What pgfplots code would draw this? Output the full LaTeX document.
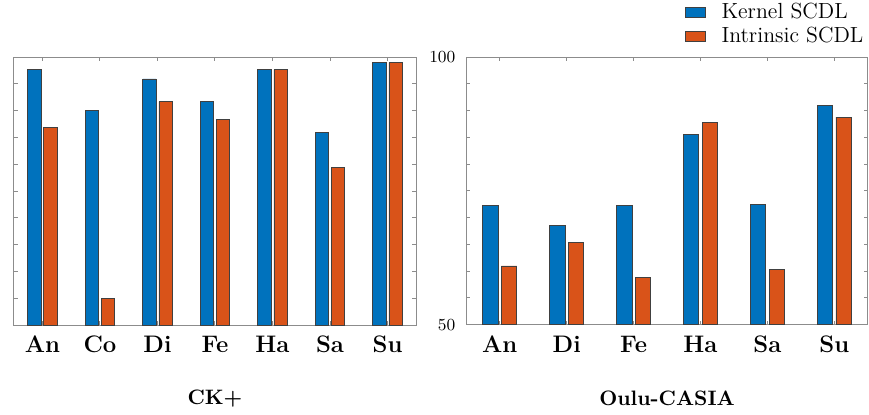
\documentclass[border=0pt]{standalone}
\usepackage{pgfplots}
\pgfplotsset{compat=1.18}

\definecolor{kblue}{RGB}{0,114,189}
\definecolor{iorange}{RGB}{217,83,25}
\definecolor{boxgray}{RGB}{140,140,140}

\pgfplotsset{
  bars/.style={
    scale only axis,
    anchor=north west,
    ybar,
    bar width=0.23,
    axis line style={boxgray, line width=0.5pt},
    major tick style={boxgray, line width=0.5pt},
    tick align=inside,
    major tick length=2pt,
    xtick=data,
    xticklabel style={font=\bfseries\fontsize{12}{14}\selectfont, anchor=center, yshift=-9.8pt},
    xlabel style={font=\bfseries\fontsize{10.5}{12}\selectfont, at={(axis description cs:0.5,0)}, anchor=center, yshift=-37pt},
    every axis plot/.append style={draw=black!75, line width=0.4pt},
  },
}

\begin{document}
\begin{tikzpicture}
\path (0,0) rectangle (434.5pt,206pt);

% CK+
\begin{axis}[
  bars,
  at={(4.65pt,179.35pt)},
  width=202.35pt, height=134.7pt,
  xmin=0.5, xmax=7.5,
  ymin=80, ymax=100,
  ytick={80,82,...,100},
  yticklabels={},
  xticklabels={An,Co,Di,Fe,Ha,Sa,Su},
  xlabel={CK+},
]
\addplot[fill=kblue, bar shift=-0.14] coordinates {
  (1,99.06) (2,96.0) (3,98.37) (4,96.68) (5,99.06) (6,94.36) (7,99.58)};
\addplot[fill=iorange, bar shift=0.14] coordinates {
  (1,94.73) (2,81.98) (3,96.68) (4,95.32) (5,99.06) (6,91.76) (7,99.58)};
\end{axis}

% Oulu-CASIA
\begin{axis}[
  bars,
  at={(232.15pt,179.35pt)},
  width=201.7pt, height=134.5pt,
  xmin=0.5, xmax=6.5,
  ymin=50, ymax=100,
  ytick={50,55,...,100},
  yticklabels={50,,,,,,,,,,100},
  yticklabel style={font=\fontsize{8.5}{10}\selectfont, xshift=-2pt},
  xticklabels={An,Di,Fe,Ha,Sa,Su},
  xlabel={Oulu-CASIA},
  legend style={at={(axis description cs:1,1)}, anchor=south east,
    draw=none, fill=none, inner sep=0pt, yshift=4pt, xshift=-0.5pt,
    font=\fontsize{11}{13}\selectfont,
    nodes={inner sep=1.5pt}, row sep=0pt},
  legend cell align=left,
  legend image code/.code={\fill[#1] (0pt,-2.5pt) rectangle (10pt,2.5pt);},
  /tikz/every odd column/.append style={column sep=6.5pt},
]
\addplot[fill=kblue, bar shift=-0.14] coordinates {
  (1,72.36) (2,68.59) (3,72.36) (4,85.56) (5,72.55) (6,90.89)};
\addlegendentry{Kernel SCDL}
\addplot[fill=iorange, bar shift=0.14] coordinates {
  (1,60.97) (2,65.43) (3,58.79) (4,87.79) (5,60.28) (6,88.78)};
\addlegendentry{Intrinsic SCDL}
\end{axis}
\end{tikzpicture}
\end{document}
